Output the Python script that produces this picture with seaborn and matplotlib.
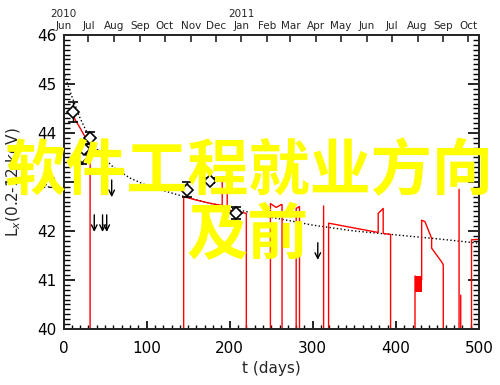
import numpy as np
import pandas as pd
import matplotlib
matplotlib.use("Agg")
import matplotlib.pyplot as plt
from matplotlib.ticker import MultipleLocator
import seaborn as sns

# model curve (dotted)
model_t = [0, 10, 20, 30, 40, 50, 60, 80, 100, 125, 150, 175, 200, 250, 300, 350, 400, 450, 500]
model_y = [45.25, 44.75, 44.3, 43.95, 43.68, 43.47, 43.3, 43.08, 42.93, 42.8, 42.68, 42.57,
           42.47, 42.28, 42.12, 42.0, 41.92, 41.84, 41.75]

# red light curve, NaN separates pieces
red_t = [12, 20, 26, 32, 32, np.nan,
         144.6, 144.6, 160, 178, 191, 191, 197, 197, 208, 220, 220, np.nan,
         249, 249, 256, 262, 263, 263, np.nan,
         280, 280, 284, 284, np.nan,
         313, 313, np.nan,
         319, 319, 350, 378.7, 378.7, 384.7, 384.7, 393.6, 393.6, np.nan,
         423, 423, 431, 431, 435, 443, 443, 449, 455, 457, 457, np.nan,
         476, 476, np.nan,
         478, 478, np.nan,
         491, 491, 500]
red_y = [44.33, 44.1, 43.92, 43.75, 40, np.nan,
         40, 42.70, 42.63, 42.56, 42.52, 43.07, 43.07, 42.43, 42.40, 42.36, 40, np.nan,
         40, 42.56, 42.48, 42.54, 42.54, 40, np.nan,
         40, 42.46, 42.5, 40, np.nan,
         40, 42.51, np.nan,
         40, 42.16, 42.06, 41.97, 42.36, 42.46, 41.95, 41.93, 40, np.nan,
         40, 41.08, 41.0, 42.22, 42.19, 41.85, 41.65, 41.51, 41.37, 41.31, 40, np.nan,
         40, 42.85, np.nan,
         40, 40.69, np.nan,
         40, 41.82, 41.83]
block_t = [423, 431]
block_lo = [40.76, 40.76]
block_hi = [41.08, 41.08]

# detections
det_t = [11, 22.5, 25, 32, 148.6, 176, 207]
det_y = [44.43, 43.52, 43.67, 43.9, 42.84, 43.03, 42.36]
det_err = [0.2, 0.15, 0.1, 0.12, 0.15, 0.06, 0.12]

# upper limits
lim_t = [37, 47, 52, 58, 306]
lim_y = [42.33, 42.33, 42.33, 43.04, 41.76]

months = pd.date_range("2010-06-01", "2011-10-01", freq="MS")
month_t = (months - months[0]).days
month_lab = [("%d\n" % m.year if m.month in (1,) or i == 0 else "") + m.strftime("%b")
             for i, m in enumerate(months)]

sns.set_style("ticks")
plt.rcParams["font.family"] = ["DejaVu Sans"]

fig = plt.figure(figsize=(5, 3.85), dpi=100)
ax = fig.add_axes([0.127, 0.1455, 0.831, 0.7636])

sns.lineplot(x=model_t, y=model_y, ax=ax, color="black", linestyle=":", lw=1)
ax.plot(red_t, red_y, color="red", lw=1)
ax.fill_between(block_t, block_lo, block_hi, color="red", lw=0)
ax.errorbar(det_t, det_y, yerr=det_err, fmt="D", mfc="white", mec="black", ms=6, mew=1.2,
            ecolor="black", elinewidth=1, capsize=3.5, zorder=5)
for t, y in zip(lim_t, lim_y):
    ax.annotate("", xy=(t, y - 0.35), xytext=(t, y),
                arrowprops=dict(arrowstyle="->", color="black", lw=1, shrinkA=0, shrinkB=0))

ax.set_xlim(0, 500)
ax.set_ylim(40, 46)
ax.xaxis.set_major_locator(MultipleLocator(100))
ax.xaxis.set_minor_locator(MultipleLocator(10))
ax.yaxis.set_major_locator(MultipleLocator(1))
ax.yaxis.set_minor_locator(MultipleLocator(0.1))
ax.tick_params(which="both", direction="in", top=False, right=True, colors="black", labelsize=11)
ax.tick_params(axis="x", which="major", length=6, width=1.2, pad=9)
ax.tick_params(axis="x", which="minor", length=3, width=1)
ax.tick_params(axis="y", which="major", length=8, width=1.2, pad=5)
ax.tick_params(axis="y", which="minor", length=4, width=1)
for s in ax.spines.values():
    s.set_linewidth(1.3)
ax.set_xlabel("t (days)", fontsize=11, labelpad=3)
ax.set_ylabel("L$_x$(0.2-12 keV)", fontsize=11, labelpad=10)

top = ax.twiny()
top.set_xlim(0, 500)
top.set_xticks(month_t)
top.set_xticklabels(month_lab, fontsize=7.5)
top.tick_params(direction="in", length=5, width=1.2, pad=3)
top.xaxis.set_minor_locator(plt.NullLocator())
for s in top.spines.values():
    s.set_linewidth(1.3)

fig.text(0.497, 0.553, "软件工程就业方向", ha="center", va="center", fontsize=44,
         color="#ffff00", family=["Noto Sans CJK SC", "DejaVu Sans"], weight="bold")
fig.text(0.495, 0.385, "及前", ha="center", va="center", fontsize=44,
         color="#ffff00", family=["Noto Sans CJK SC", "DejaVu Sans"], weight="bold")

fig.savefig("out.png", dpi=100)
